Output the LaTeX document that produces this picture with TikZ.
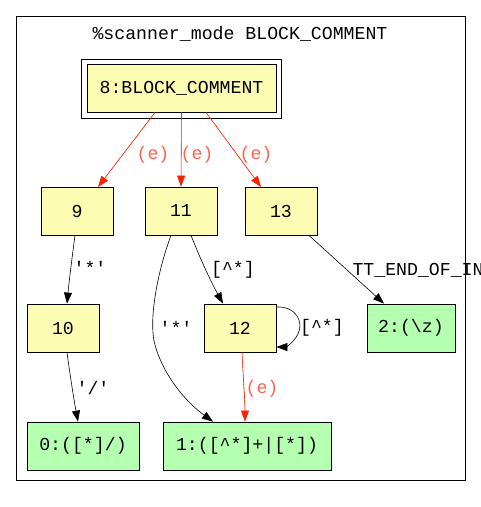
\documentclass[tikz,border=0pt]{standalone}
\usepackage{fontspec}
\setmonofont{Liberation Mono}
\usetikzlibrary{arrows.meta}
\definecolor{nyellow}{RGB}{252,252,178}
\definecolor{ngreen}{RGB}{180,255,176}
\definecolor{ered}{RGB}{255,32,0}
\definecolor{lred}{RGB}{255,100,80}
\tikzset{
  every node/.style={font=\ttfamily\fontsize{18.2}{20}\selectfont},
  st/.style={draw, line width=0.8pt, fill=nyellow, minimum width=72pt, minimum height=48pt, inner sep=0pt},
  acc/.style={draw, line width=0.8pt, fill=ngreen, minimum height=48pt, inner sep=0pt},
  tr/.style={line width=0.6pt, -{Triangle[length=11pt,width=8pt]}},
  eps/.style={tr, draw=ered, fill=ered},
  elab/.style={text=lred},
  lab/.style={text=black}
}
\begin{document}
\begin{tikzpicture}[x=1pt,y=-1pt]
\useasboundingbox (0,0) rectangle (481,507);
\clip (0,0) rectangle (481,507);
\draw[line width=0.8pt] (16,16) rectangle (465,480);
\node (title) at (240,34) {\%scanner\_mode BLOCK\_COMMENT};
\node[draw, line width=0.8pt, minimum width=200pt, minimum height=59pt] (outer) at (181,88.5) {};
\node[st, minimum width=189pt] (s8) at (181.5,88) {8:BLOCK\_COMMENT};
\node[st] (s9) at (77,211) {9};
\node[st] (s11) at (181,211) {11};
\node[st] (s13) at (281,211) {13};
\node[st] (s10) at (63,328) {10};
\node[st] (s12) at (240,328) {12};
\node[acc, minimum width=88pt] (s2) at (411,328) {2:(\textbackslash z)};
\node[acc, minimum width=112pt] (s0) at (83,446) {0:([*]/)};
\node[acc, minimum width=168pt] (s1) at (247,446) {1:([\textasciicircum*]+|[*])};
% epsilon edges
\draw[eps] (s8.south -| 155,0) -- (98,187) coordinate (t9);
\draw[eps] (s8.south) -- (s11.north);
\draw[eps] (s8.south -| 206,0) -- (261,187) coordinate (t13);
\node[elab] (l1) at (153,155) {(e)};
\node[elab] (l2) at (197,155) {(e)};
\node[elab] (l3) at (256,155) {(e)};
% 9 -> 10
\draw[tr] (s9.south -| 75,0) .. controls (72,258) and (69,282) .. (s10.north -| 67,0);
\node[lab] at (90,268) {'*'};
% 11 -> 12
\draw[tr] (s11.south -| 191,0) .. controls (200,258) and (210,280) .. (s12.north -| 223,0);
\node[lab] at (233,270) {[\textasciicircum*]};
% 11 -> 1
\draw[tr] (s11.south -| 171,0) .. controls (158,270) and (148,320) .. (155,345) .. controls (165,380) and (190,405) .. (s1.north -| 213,0);
\node[lab] at (176,328) {'*'};
% 13 -> 2
\draw[tr] (s13.south -| 309,0) -- (s2.north -| 384,0);
\node[lab, anchor=west] at (349,270) {TT\_END\_OF\_INPUT};
% 12 self loop
\draw[tr] (s12.north east |- 0,307) .. controls (296,306) and (304,322) .. (298,334) .. controls (293,344) and (285,347) .. (s12.south east |- 0,347);
\node[lab] at (322,328) {[\textasciicircum*]};
% 10 -> 0
\draw[tr] (s10.south -| 67,0) .. controls (70,375) and (74,400) .. (s0.north -| 78,0);
\node[lab] at (93,388) {'/'};
% 12 -> 1
\draw[eps] (s12.south -| 242,0) .. controls (243,375) and (245,400) .. (s1.north -| 245,0);
\node[elab] (l4) at (262,389) {(e)};
\end{tikzpicture}
\end{document}
